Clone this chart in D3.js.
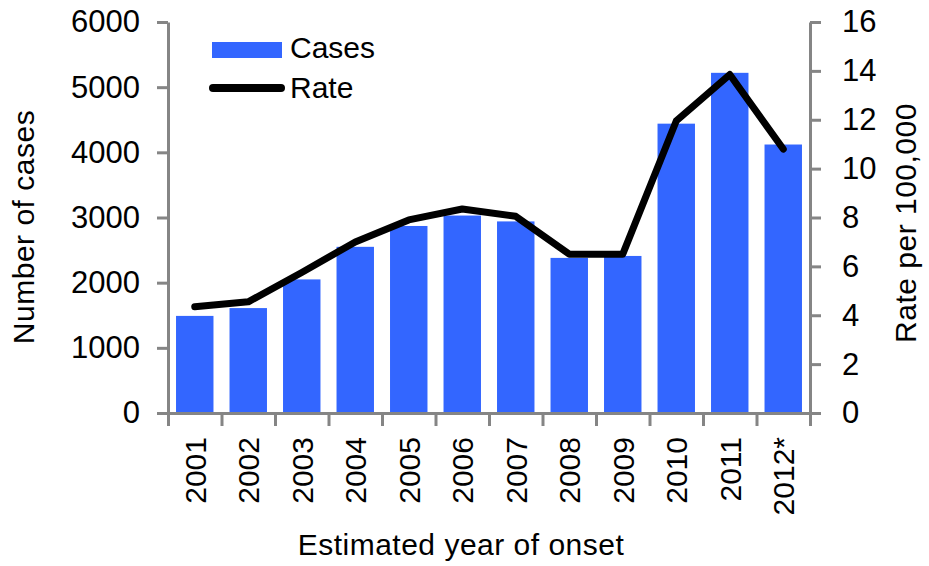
<!DOCTYPE html>
<html>
<head>
<meta charset="utf-8">
<script src="https://cdnjs.cloudflare.com/ajax/libs/d3/7.8.5/d3.min.js"></script>
<style>
  body { margin: 0; background: #fff; }
  text { font-family: Arial, "Liberation Sans", sans-serif; fill: #000; }
</style>
</head>
<body>
<svg id="chart" width="929" height="566"></svg>
<script>
const years = ["2001", "2002", "2003", "2004", "2005", "2006", "2007", "2008", "2009", "2010", "2011", "2012*"];
const cases = [1490, 1610, 2050, 2550, 2870, 3030, 2940, 2380, 2410, 4440, 5220, 4120];
const rate = [4.35, 4.55, 5.75, 7.0, 7.9, 8.35, 8.05, 6.5, 6.5, 11.95, 13.85, 10.8];
const caseTicks = [0, 1000, 2000, 3000, 4000, 5000, 6000];
const rateTicks = [0, 2, 4, 6, 8, 10, 12, 14, 16];

const svg = d3.select("#chart");
const plotLeft = 168, plotRight = 810, plotTop = 22, plotBottom = 413;
const axisColor = "#858585";
const fontSize = "30px";

const x = d3.scaleBand()
  .domain(years)
  .range([plotLeft, plotRight])
  .paddingInner(0.3)
  .paddingOuter(0.15);

// index scale just to put x ticks on the band edges
const xEdge = d3.scaleLinear().domain([0, years.length]).range([plotLeft, plotRight]);

const yCases = d3.scaleLinear().domain([0, 6000]).range([plotBottom, plotTop]);
const yRate = d3.scaleLinear().domain([0, 16]).range([plotBottom, plotTop]);

// bars
svg.append("g")
  .selectAll("rect")
  .data(years)
  .enter()
  .append("rect")
  .attr("x", d => x(d))
  .attr("y", (d, i) => yCases(cases[i]))
  .attr("width", x.bandwidth())
  .attr("height", (d, i) => plotBottom - yCases(cases[i]))
  .attr("fill", "#3366ff");

// rate line
const line = d3.line()
  .x((d, i) => x(years[i]) + x.bandwidth() / 2)
  .y(d => yRate(d));

svg.append("path")
  .datum(rate)
  .attr("d", line)
  .attr("fill", "none")
  .attr("stroke", "#000")
  .attr("stroke-width", 7)
  .attr("stroke-linejoin", "round")
  .attr("stroke-linecap", "round");

function styleAxis(g) {
  g.selectAll(".domain").attr("stroke", axisColor).attr("stroke-width", 3);
  g.selectAll(".tick line").attr("stroke", axisColor).attr("stroke-width", 3);
  g.selectAll("text").attr("font-size", "31px").attr("font-family", "Arial, 'Liberation Sans', sans-serif").attr("fill", "#000");
}

// left axis
svg.append("g")
  .attr("transform", `translate(${plotLeft},0)`)
  .call(d3.axisLeft(yCases).tickValues(caseTicks).tickSize(11).tickSizeOuter(0).tickPadding(17).tickFormat(d3.format("d")))
  .call(styleAxis);

// right axis
svg.append("g")
  .attr("transform", `translate(${plotRight},0)`)
  .call(d3.axisRight(yRate).tickValues(rateTicks).tickSize(11).tickSizeOuter(0).tickPadding(21))
  .call(styleAxis);

// bottom axis: tick marks on band edges
svg.append("g")
  .attr("transform", `translate(0,${plotBottom})`)
  .call(d3.axisBottom(xEdge).ticks(years.length).tickSize(13).tickSizeOuter(0).tickFormat(""))
  .call(styleAxis);

// year labels
svg.append("g")
  .selectAll("text")
  .data(years)
  .enter()
  .append("text")
  .attr("transform", d => `translate(${x(d) + x.bandwidth() / 2},437) rotate(-90)`)
  .attr("text-anchor", "end")
  .attr("dy", "0.36em")
  .attr("font-size", fontSize)
  .text(d => d);

// axis titles
svg.append("text")
  .attr("transform", "translate(23,227) rotate(-90)")
  .attr("text-anchor", "middle")
  .attr("dy", "0.36em")
  .attr("font-size", fontSize)
  .attr("letter-spacing", "0.5px")
  .text("Number of cases");

svg.append("text")
  .attr("transform", "translate(905,223) rotate(-90)")
  .attr("text-anchor", "middle")
  .attr("dy", "0.36em")
  .attr("font-size", fontSize)
  .attr("letter-spacing", "0.5px")
  .text("Rate per 100,000");

svg.append("text")
  .attr("x", 461)
  .attr("y", 555)
  .attr("text-anchor", "middle")
  .attr("font-size", fontSize)
  .attr("letter-spacing", "0.5px")
  .text("Estimated year of onset");

// legend
const legend = svg.append("g");
legend.append("rect")
  .attr("x", 212).attr("y", 42)
  .attr("width", 70).attr("height", 16)
  .attr("fill", "#3366ff");
legend.append("text")
  .attr("x", 290).attr("y", 58)
  .attr("font-size", fontSize)
  .text("Cases");
legend.append("line")
  .attr("x1", 213).attr("x2", 281)
  .attr("y1", 88).attr("y2", 88)
  .attr("stroke", "#000")
  .attr("stroke-width", 8)
  .attr("stroke-linecap", "round");
legend.append("text")
  .attr("x", 290).attr("y", 98)
  .attr("font-size", fontSize)
  .text("Rate");
</script>
</body>
</html>
